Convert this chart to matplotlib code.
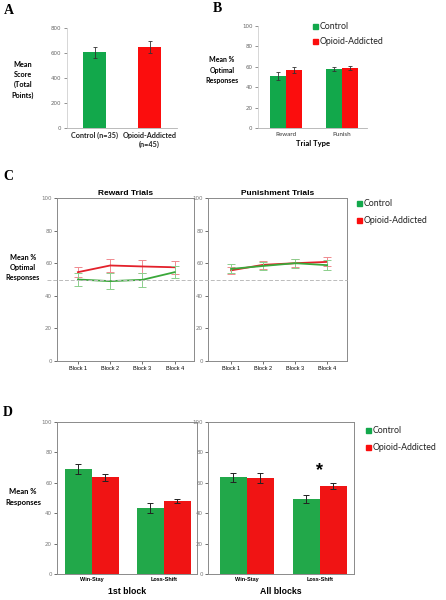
import matplotlib
matplotlib.use("Agg")
import matplotlib.pyplot as plt
import matplotlib.transforms as mtransforms
from matplotlib.lines import Line2D
import numpy as np

W, H = 446, 600
fig = plt.figure(figsize=(W / 100, H / 100), dpi=100)

# ---------------- data ----------------
score_groups = ["Control (n=35)", "Opioid-Addicted\n(n=45)"]
score_mean = [605, 650]
score_err = [45, 50]

trial_types = ["Reward", "Punish"]
b_control = [51, 58]
b_control_err = [3.5, 2]
b_opioid = [57, 58.5]
b_opioid_err = [3, 2]

blocks = ["Block 1", "Block 2", "Block 3", "Block 4"]
c_rew_control = [50, 49, 49.8, 54.5]
c_rew_control_err = [4, 5, 4.3, 3.6]
c_rew_opioid = [54.5, 58.6, 58, 57.5]
c_rew_opioid_err = [3, 4, 4, 4]
c_pun_control = [56.5, 58.3, 60, 58.8]
c_pun_control_err = [2.8, 2.5, 2.8, 3]
c_pun_opioid = [55.6, 59, 60, 60.8]
c_pun_opioid_err = [2, 2.5, 2.5, 2.8]

strategies = ["Win-Stay", "Loss-Shift"]
d_first_control = [68.8, 43.5]
d_first_control_err = [3.3, 3.3]
d_first_opioid = [63.5, 48]
d_first_opioid_err = [2.3, 1.5]
d_all_control = [63.5, 49.5]
d_all_control_err = [3.2, 2.6]
d_all_opioid = [63, 57.8]
d_all_opioid_err = [3.2, 2]

GREEN = "#12a84b"
RED = "#fb0d0d"
DGREEN = "#22a84a"
DRED = "#f01414"
LGREEN = "#3aa83a"
LRED = "#e3212b"
GRAY = "#8a8a8a"
SANS = ["Lato", "DejaVu Sans"]
ARIAL = ["Liberation Sans", "DejaVu Sans"]
SERIF = ["Liberation Serif", "DejaVu Serif"]


def px_axes(x0, y0, x1, y1):
    return fig.add_axes([x0 / W, 1 - y1 / H, (x1 - x0) / W, (y1 - y0) / H])


def ftext(x, y, s, **kw):
    fig.text(x / W, 1 - y / H, s, **kw)


def style_excel(ax):
    for s in ["top", "right"]:
        ax.spines[s].set_visible(False)
    ax.spines["left"].set_color("#d0d0d0")
    ax.spines["bottom"].set_color("#b0b0b0")
    ax.spines["left"].set_linewidth(0.6)
    ax.spines["bottom"].set_linewidth(0.6)
    ax.tick_params(axis="y", labelsize=4, colors="#666666", length=2, width=0.5, pad=2)
    ax.tick_params(axis="x", length=0, pad=3)


def style_box(ax):
    for s in ax.spines.values():
        s.set_color(GRAY)
        s.set_linewidth(0.7)
    ax.tick_params(axis="y", labelsize=4, labelcolor="#777777", color="#555555",
                   length=2, width=0.6, pad=1.5)
    ax.tick_params(axis="x", labelsize=4, color="#555555", length=2, width=0.6, pad=1.5)


# ---------------- Panel A ----------------
axA = px_axes(67, 28, 177, 128)
xa = np.arange(len(score_groups))
axA.bar(xa, score_mean, width=0.42, color=[GREEN, RED], yerr=score_err,
        error_kw=dict(ecolor="#333333", elinewidth=0.6, capsize=1.5, capthick=0.6))
axA.set_xlim(-0.5, 1.5)
axA.set_ylim(0, 800)
axA.set_yticks([0, 200, 400, 600, 800])
axA.set_xticks(xa)
axA.set_xticklabels(score_groups, fontsize=5.2, fontweight="bold", family=SANS, color="#222222")
style_excel(axA)
ftext(23, 80, "Mean\nScore\n(Total\nPoints)", ha="center", va="center", fontsize=5.2,
      fontweight="bold", family=SANS, linespacing=1.5)
ftext(4, 10, "A", fontsize=10, fontweight="bold", family=SERIF, va="center")

# ---------------- Panel B ----------------
axB = px_axes(258, 26, 367, 128)
xb = np.arange(len(trial_types))
wb = 0.29
axB.bar(xb - wb / 2, b_control, width=wb, color=GREEN, yerr=b_control_err,
        error_kw=dict(ecolor="#333333", elinewidth=0.6, capsize=1.5, capthick=0.6))
axB.bar(xb + wb / 2, b_opioid, width=wb, color=RED, yerr=b_opioid_err,
        error_kw=dict(ecolor="#333333", elinewidth=0.6, capsize=1.5, capthick=0.6))
axB.set_xlim(-0.5, 1.45)
axB.set_ylim(0, 100)
axB.set_yticks([0, 20, 40, 60, 80, 100])
axB.set_xticks(xb)
axB.set_xticklabels(trial_types, fontsize=4.5, family=SANS, color="#333333")
style_excel(axB)
axB.set_xlabel("Trial Type", fontsize=5.5, fontweight="bold", family=SANS, labelpad=2)
ftext(222, 70, "Mean %\nOptimal\nResponses", ha="center", va="center", fontsize=5.0,
      fontweight="bold", family=SANS, linespacing=1.5)
ftext(213, 8, "B", fontsize=10, fontweight="bold", family=SERIF, va="center")
# legend B
for i, (lab, col) in enumerate([("Control", GREEN), ("Opioid-Addicted", RED)]):
    yy = 26 + i * 15
    fig.patches.append(plt.Rectangle(((313) / W, 1 - (yy + 3) / H), 5 / W, 5 / H,
                                     transform=fig.transFigure, color=col))
    ftext(320, yy + 0.5, lab, fontsize=6.3, family=SANS, va="center", color="#222222")

# ---------------- Panel C ----------------
def line_panel(ax, control, control_err, opioid, opioid_err, xlim, title):
    xc = np.arange(1, len(blocks) + 1)
    ax.errorbar(xc, opioid, yerr=opioid_err, color=LRED, lw=1.3, ecolor="#f08a8f",
                elinewidth=0.7, capsize=3, capthick=0.7, zorder=3)
    ax.errorbar(xc, control, yerr=control_err, color=LGREEN, lw=1.3, ecolor="#8ccf8c",
                elinewidth=0.7, capsize=3, capthick=0.7, zorder=4)
    ax.set_xlim(*xlim)
    ax.set_ylim(0, 100)
    ax.set_yticks([0, 20, 40, 60, 80, 100])
    ax.set_xticks(xc)
    ax.set_xticklabels(blocks, family=ARIAL)
    style_box(ax)
    ax.set_title(title, fontsize=6, fontweight="bold", family=ARIAL, pad=2.5)


axC1 = px_axes(57, 198, 194, 361)
line_panel(axC1, c_rew_control, c_rew_control_err, c_rew_opioid, c_rew_opioid_err,
           (0.35, 4.6), "Reward Trials")
axC2 = px_axes(208, 198, 347, 361)
line_panel(axC2, c_pun_control, c_pun_control_err, c_pun_opioid, c_pun_opioid_err,
           (0.28, 4.62), "Punishment Trials")
# dashed chance line spanning both panels
tr = mtransforms.blended_transform_factory(fig.transFigure, axC1.transData)
fig.add_artist(Line2D([47 / W, 347 / W], [50, 50], transform=tr, color="#bbbbbb",
                      lw=0.7, ls=(0, (4, 2)), zorder=1))
ftext(23, 267, "Mean %\nOptimal\nResponses", ha="center", va="center", fontsize=5.2,
      fontweight="bold", family=SANS, linespacing=1.5)
ftext(3, 177, "C", fontsize=10, fontweight="bold", family=SERIF, va="center")
for i, (lab, col) in enumerate([("Control", GREEN), ("Opioid-Addicted", RED)]):
    yy = 203 + i * 17
    fig.patches.append(plt.Rectangle((357 / W, 1 - (yy + 3) / H), 5 / W, 5 / H,
                                     transform=fig.transFigure, color=col))
    ftext(364, yy + 0.5, lab, fontsize=6.3, family=SANS, va="center", color="#222222")

# ---------------- Panel D ----------------
def bar_panel(ax, control, control_err, opioid, opioid_err, w, xlim, xlabel):
    xd = np.arange(len(strategies))
    ek = dict(ecolor="#222222", elinewidth=0.7, capsize=2.5, capthick=0.7)
    ax.bar(xd - w / 2, control, width=w, color=DGREEN, yerr=control_err, error_kw=ek)
    ax.bar(xd + w / 2, opioid, width=w, color=DRED, yerr=opioid_err, error_kw=ek)
    ax.set_xlim(*xlim)
    ax.set_ylim(0, 100)
    ax.set_yticks([0, 20, 40, 60, 80, 100])
    ax.set_xticks(xd)
    ax.set_xticklabels(strategies, family=ARIAL, fontweight="bold", fontsize=4.5)
    style_box(ax)
    ax.tick_params(axis="x", length=0, pad=2)
    ax.set_xlabel(xlabel, fontsize=6.3, fontweight="bold", family=ARIAL, labelpad=4)


axD1 = px_axes(57, 422, 197, 574)
bar_panel(axD1, d_first_control, d_first_control_err, d_first_opioid, d_first_opioid_err,
          0.375, (-0.486, 1.46), "1st block")
axD2 = px_axes(208, 422, 354, 574)
bar_panel(axD2, d_all_control, d_all_control_err, d_all_opioid, d_all_opioid_err,
          0.37, (-0.53, 1.47), "All blocks")
axD2.text(1 - 0.37 / 2 + 0.18, 68, "*", fontsize=13, fontweight="bold", ha="center",
          va="center", family=ARIAL)
ftext(23, 497, "Mean %\nResponses", ha="center", va="center", fontsize=5.5,
      fontweight="bold", family=SANS, linespacing=1.5)
ftext(3, 412, "D", fontsize=10, fontweight="bold", family=SERIF, va="center")
for i, (lab, col) in enumerate([("Control", GREEN), ("Opioid-Addicted", RED)]):
    yy = 430 + i * 17
    fig.patches.append(plt.Rectangle((366 / W, 1 - (yy + 3) / H), 5 / W, 5 / H,
                                     transform=fig.transFigure, color=col))
    ftext(373, yy + 0.5, lab, fontsize=6.3, family=SANS, va="center", color="#222222")

fig.savefig("out.png", dpi=100)
